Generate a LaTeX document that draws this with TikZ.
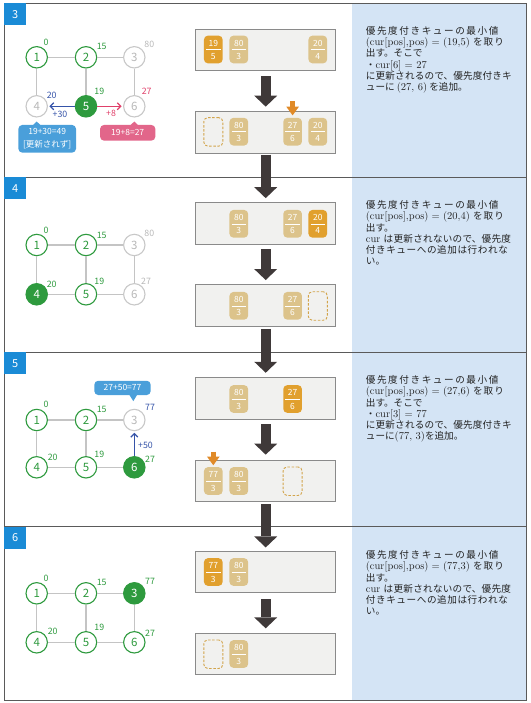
\documentclass[tikz,border=0pt]{standalone}
\usepackage{fontspec}
\newfontfamily\jp{Noto Sans CJK JP}
\usetikzlibrary{arrows.meta,calc}
\XeTeXlinebreaklocale "ja"
\XeTeXlinebreakskip=0pt plus 2pt
\tolerance=10000 \hbadness=10000 \hfuzz=3pt
\definecolor{secblue}{HTML}{1A8BD6}
\definecolor{panel}{HTML}{D4E4F5}
\definecolor{framec}{HTML}{5A5A5A}
\definecolor{gr}{HTML}{2E9A3E}
\definecolor{lg}{HTML}{C8C8C8}
\definecolor{lgt}{HTML}{B8B8B8}
\definecolor{edgec}{HTML}{C4C4C4}
\definecolor{ab}{HTML}{3553A8}
\definecolor{cb}{HTML}{4A9FDA}
\definecolor{rd}{HTML}{E0406A}
\definecolor{cp}{HTML}{E2668A}
\definecolor{qtan}{HTML}{DCC38B}
\definecolor{qhi}{HTML}{E1A02E}
\definecolor{qbg}{HTML}{F1F1EF}
\definecolor{qbd}{HTML}{8A8A8A}
\definecolor{bigar}{HTML}{3F3939}
\definecolor{oar}{HTML}{E08A28}
\definecolor{dsh}{HTML}{D2A44A}
\definecolor{txt}{HTML}{222222}
\newcommand\rmp[1]{{\rmfamily\fontsize{10.5}{11.2}\selectfont #1}}
\newcommand\qc[6]{%
  \node[#6] (#1) at (#2,#3) {};
  \draw[white, line width=0.6pt] ([xshift=-7.2pt]#1.center) -- ([xshift=7.2pt]#1.center);
  \node[cardtxt] (#1n) at ([yshift=6.3pt]#1.center) {#4};
  \node[cardtxt] (#1d) at ([yshift=-7pt]#1.center) {#5};}
\newcommand\qe[3]{\node[emptycard] (#1) at (#2,#3) {};}
\newcommand\jl[3]{\node[rtj] (#1) at (365.7,#2) {\parfillskip=0pt\relax #3\par};}
\newcommand\nl[3]{\node[rtn] (#1) at (365.7,#2) {#3};}
\begin{document}
\begin{tikzpicture}[x=1pt,y=-1pt,
  gn/.style={circle, draw=gr, line width=1.1pt, minimum size=21.4pt, inner sep=0pt, text=gr, fill=white, font=\jp\fontsize{11.5}{12}\selectfont},
  gy/.style={gn, draw=lg, text=lgt},
  gf/.style={gn, fill=gr, text=white},
  ed/.style={draw=edgec, line width=1.3pt},
  wl/.style={font=\jp\fontsize{8.8}{9}\selectfont, inner sep=0pt},
  qbox/.style={draw=qbd, fill=qbg, line width=0.8pt, minimum width=140pt, minimum height=41.5pt, inner sep=0pt},
  qcard/.style={fill=qtan, rounded corners=4pt, minimum width=18.7pt, minimum height=27.7pt, inner sep=0pt},
  qcardhi/.style={qcard, fill=qhi},
  cardtxt/.style={text=white, font=\jp\fontsize{8.5}{9}\selectfont, inner sep=0pt},
  emptycard/.style={draw=dsh, dash pattern=on 2.5pt off 1.6pt, line width=0.9pt, rounded corners=4pt, minimum width=19pt, minimum height=28.5pt, inner sep=0pt},
  bigarrow/.style={draw=bigar, line width=9.7pt, -{Triangle[length=11pt,width=23pt,line width=0pt]}},
  insarrow/.style={draw=oar, line width=4.7pt, -{Triangle[length=8.7pt,width=12.7pt,line width=0pt]}},
  seclab/.style={fill=secblue, text=white, minimum width=22pt, minimum height=22pt, anchor=north west, inner sep=0pt, font=\jp\fontsize{11}{12}\selectfont},
  callout/.style={rounded corners=4pt, text=white, inner sep=0pt, align=center, font=\jp\fontsize{8.5}{12.7}\selectfont},
  warr/.style={line width=1.2pt, -{Straight Barb[length=3.5pt,width=7pt]}, shorten >=1.5pt},
  rtj/.style={anchor=base west, text width=147.6pt, inner sep=0pt, text=txt, font=\jp\fontsize{9.6}{11.2}\selectfont},
  rtn/.style={anchor=base west, inner sep=0pt, text=txt, font=\jp\fontsize{9.6}{11.2}\selectfont}
]
\useasboundingbox (0,0) rectangle (530,703);
\fill[panel] (352,3) rectangle (526,700.5);
\draw[framec, line width=0.9pt] (4,3) rectangle (526,700.5);
\draw[framec, line width=0.9pt] (4,177) -- (526,177);
\draw[framec, line width=0.9pt] (4,352) -- (526,352);
\draw[framec, line width=0.9pt] (4,526.5) -- (526,526.5);
\node[seclab] (s3) at (4,3) {3};
\node[seclab] (s4) at (4,177) {4};
\node[seclab] (s5) at (4,352) {5};
\node[seclab] (s6) at (4,526.5) {6};

% ---------- section 3 graph
\node[gn] (a1) at (36.7,57.3) {1};
\node[gn] (a2) at (86,57.3) {2};
\node[gy] (a3) at (134.3,57.3) {3};
\node[gy] (a4) at (36.7,106.3) {4};
\node[gf] (a5) at (86,106.3) {5};
\node[gy] (a6) at (134.3,106.3) {6};
\draw[ed] (a1) -- (a2); \draw[ed] (a2) -- (a3); \draw[ed] (a1) -- (a4);
\draw[ed] (a2) -- (a5); \draw[ed] (a3) -- (a6);
\draw[warr, ab] (a5) -- (a4);
\draw[warr, rd] (a5) -- (a6);
\node[wl, text=gr] (w31) at (46,42.7) {0};
\node[wl, text=gr] (w32) at (101.7,46.3) {15};
\node[wl, text=lgt] (w33) at (149.3,44) {80};
\node[wl, text=ab] (w34) at (51.7,95.7) {20};
\node[wl, text=gr] (w35) at (99.3,91) {19};
\node[wl, text=rd] (w36) at (146.7,91) {27};
\node[wl, text=ab] (p30) at (60,114.3) {+30};
\node[wl, text=rd] (p8) at (111,113.3) {+8};
\node[callout, fill=cb, minimum width=57.7pt, minimum height=27.7pt] (cb3) at (47.2,138.8) {19+30=49\\{}[更新されず]};
\fill[cb] ($(cb3.north -| a4)+(-4.5,1)$) -- ($(a4.south)+(0,4)$) -- ($(cb3.north -| a4)+(4.5,1)$) -- cycle;
\node[callout, fill=cp, minimum width=55.3pt, minimum height=15.7pt] (cp3) at (127.7,132.8) {19+8=27};
\fill[cp] ($(cp3.north -| a6)+(-4.5,1)$) -- ($(a6.south)+(0,4)$) -- ($(cp3.north -| a6)+(4.5,1)$) -- cycle;

% ---------- section 4 graph
\node[gn] (b1) at (36.7,245) {1};
\node[gn] (b2) at (86,245) {2};
\node[gy] (b3) at (134.3,245) {3};
\node[gf] (b4) at (36.7,294.3) {4};
\node[gn] (b5) at (86,294.3) {5};
\node[gy] (b6) at (134.3,294.3) {6};
\draw[ed] (b1) -- (b2); \draw[ed] (b2) -- (b3); \draw[ed] (b1) -- (b4);
\draw[ed] (b2) -- (b5); \draw[ed] (b3) -- (b6); \draw[ed] (b4) -- (b5); \draw[ed] (b5) -- (b6);
\node[wl, text=gr] (w41) at (46,230) {0};
\node[wl, text=gr] (w42) at (101.7,235) {15};
\node[wl, text=lgt] (w43) at (149.3,233.3) {80};
\node[wl, text=gr] (w44) at (51.7,284.3) {20};
\node[wl, text=gr] (w45) at (99.3,281) {19};
\node[wl, text=lgt] (w46) at (146,281) {27};

% ---------- section 5 graph
\node[gn] (c1) at (36.7,420) {1};
\node[gn] (c2) at (86,420) {2};
\node[gy] (c3) at (134.3,420) {3};
\node[gn] (c4) at (36.7,467.3) {4};
\node[gn] (c5) at (86,467.3) {5};
\node[gf] (c6) at (134.3,467.3) {6};
\draw[ed] (c1) -- (c2); \draw[ed] (c2) -- (c3); \draw[ed] (c1) -- (c4);
\draw[ed] (c2) -- (c5); \draw[ed] (c4) -- (c5); \draw[ed] (c5) -- (c6);
\draw[warr, ab] (c6) -- (c3);
\node[wl, text=gr] (w51) at (46,404) {0};
\node[wl, text=gr] (w52) at (101.7,409) {15};
\node[wl, text=ab] (w53) at (150,407.3) {77};
\node[wl, text=gr] (w54) at (52.7,457.7) {20};
\node[wl, text=gr] (w55) at (99.3,454) {19};
\node[wl, text=gr] (w56) at (150,459.3) {27};
\node[wl, text=ab] (p50) at (145.5,445) {+50};
\node[callout, fill=cb, minimum width=56.4pt, minimum height=14.3pt] (cb5) at (122.5,387.9) {27+50=77};
\fill[cb] ($(cb5.south)+(6.5,-1)$) -- ($(c3.north)+(-1,-7.6)$) -- ($(cb5.south)+(15,-1)$) -- cycle;

% ---------- section 6 graph
\node[gn] (d1) at (36.7,593.3) {1};
\node[gn] (d2) at (86,593.3) {2};
\node[gf] (d3) at (134.3,593.3) {3};
\node[gn] (d4) at (36.7,642.3) {4};
\node[gn] (d5) at (86,642.3) {5};
\node[gn] (d6) at (134.3,642.3) {6};
\draw[ed] (d1) -- (d2); \draw[ed] (d2) -- (d3); \draw[ed] (d1) -- (d4);
\draw[ed] (d2) -- (d5); \draw[ed] (d3) -- (d6); \draw[ed] (d4) -- (d5); \draw[ed] (d5) -- (d6);
\node[wl, text=gr] (w61) at (46,578.3) {0};
\node[wl, text=gr] (w62) at (101.7,582.3) {15};
\node[wl, text=gr] (w63) at (150,581) {77};
\node[wl, text=gr] (w64) at (52.7,631.7) {20};
\node[wl, text=gr] (w65) at (99.3,627.7) {19};
\node[wl, text=gr] (w66) at (150,633.3) {27};

% ---------- queue boxes
\node[qbox] (q3a) at (265.7,50) {};
\node[qbox] (q3b) at (265.7,132.2) {};
\node[qbox] (q4a) at (265.7,223.3) {};
\node[qbox] (q4b) at (265.7,305.5) {};
\node[qbox] (q5a) at (265.7,398.3) {};
\node[qbox] (q5b) at (265.7,480.8) {};
\node[qbox] (q6a) at (265.7,572) {};
\node[qbox] (q6b) at (265.7,653.8) {};

\qc{k3a1}{213.3}{49.5}{19}{5}{qcardhi}
\qc{k3a2}{238.8}{49.5}{80}{3}{qcard}
\qc{k3a4}{317.8}{49.5}{20}{4}{qcard}
\qe{k3b1}{213.3}{131.9}
\qc{k3b2}{238.8}{131.7}{80}{3}{qcard}
\qc{k3b3}{292.6}{131.7}{27}{6}{qcard}
\qc{k3b4}{317.8}{131.7}{20}{4}{qcard}

\qc{k4a2}{238.8}{223.8}{80}{3}{qcard}
\qc{k4a3}{292.6}{223.8}{27}{6}{qcard}
\qc{k4a4}{317.8}{223.8}{20}{4}{qcardhi}
\qc{k4b2}{238.8}{305.8}{80}{3}{qcard}
\qc{k4b3}{292.6}{305.8}{27}{6}{qcard}
\qe{k4b4}{317.8}{306}

\qc{k5a2}{238.8}{399}{80}{3}{qcard}
\qc{k5a3}{292.6}{399}{27}{6}{qcardhi}
\qc{k5b1}{213.3}{481}{77}{3}{qcard}
\qc{k5b2}{238.8}{481}{80}{3}{qcard}
\qe{k5b3}{292.6}{481.2}

\qc{k6a1}{213.3}{572}{77}{3}{qcardhi}
\qc{k6a2}{238.8}{572}{80}{3}{qcard}
\qe{k6b1}{213.3}{654.2}
\qc{k6b2}{238.8}{654}{80}{3}{qcard}

% ---------- big arrows
\draw[bigarrow, shorten <=5.3pt, shorten >=4.4pt] (q3a.south) -- (q3b.north);
\draw[bigarrow, shorten <=1.3pt, shorten >=4pt] (q3b.south) -- (q4a.north);
\draw[bigarrow, shorten <=4.7pt, shorten >=4.3pt] (q4a.south) -- (q4b.north);
\draw[bigarrow, shorten <=2.3pt, shorten >=4.4pt] (q4b.south) -- (q5a.north);
\draw[bigarrow, shorten <=5pt, shorten >=5pt] (q5a.south) -- (q5b.north);
\draw[bigarrow, shorten <=2.3pt, shorten >=3.4pt] (q5b.south) -- (q6a.north);
\draw[bigarrow, shorten <=6pt, shorten >=4.3pt] (q6a.south) -- (q6b.north);

% ---------- insertion arrows
\coordinate (ia3) at (292.6,101.5);
\draw[insarrow, shorten >=2.3pt] (ia3) -- (k3b3.north);
\coordinate (ia5) at (213.3,451.7);
\draw[insarrow, shorten >=1.7pt] (ia5) -- (k5b1.north);

% ---------- right texts
\jl{t3a}{34.6}{優先度付きキューの最小値}
\jl{t3b}{45.8}{\rmp{(cur[pos],pos) = (19,5)} を取り}
\nl{t3c}{57}{出す。そこで}
\nl{t3d}{68.2}{・\rmp{cur[6] = 27}}
\jl{t3e}{79.4}{に更新されるので、優先度付きキ}
\nl{t3f}{90.6}{ューに \rmp{(27, 6)} を追加。}

\jl{t4a}{208.6}{優先度付きキューの最小値}
\jl{t4b}{219.8}{\rmp{(cur[pos],pos) = (20,4)} を取り}
\nl{t4c}{231}{出す。}
\jl{t4d}{242.2}{\rmp{cur} は更新されないので、優先度}
\jl{t4e}{253.4}{付きキューへの追加は行われな}
\nl{t4f}{264.6}{い。}

\jl{t5a}{383.6}{優先度付きキューの最小値}
\jl{t5b}{394.8}{\rmp{(cur[pos],pos) = (27,6)} を取り}
\nl{t5c}{406}{出す。そこで}
\nl{t5d}{417.2}{・\rmp{cur[3] = 77}}
\jl{t5e}{428.4}{に更新されるので、優先度付きキ}
\nl{t5f}{439.6}{ューに\rmp{(77, 3)}を追加。}

\jl{t6a}{558.6}{優先度付きキューの最小値}
\jl{t6b}{569.8}{\rmp{(cur[pos],pos) = (77,3)} を取り}
\nl{t6c}{581}{出す。}
\jl{t6d}{592.2}{\rmp{cur} は更新されないので、優先度}
\jl{t6e}{603.4}{付きキューへの追加は行われな}
\nl{t6f}{614.6}{い。}
\end{tikzpicture}
\end{document}
